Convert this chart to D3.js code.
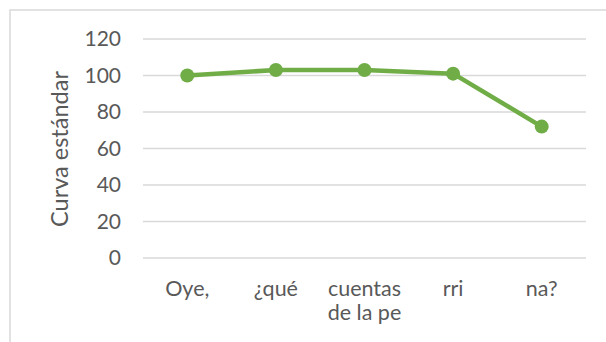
<!DOCTYPE html>
<html>
<head>
<meta charset="utf-8">
<script src="https://cdn.jsdelivr.net/npm/d3@7"></script>
<style>
  html, body { margin: 0; padding: 0; background: #fff; }
  svg { display: block; }
  text { font-family: Lato, "Open Sans", sans-serif; fill: #595959; }
</style>
</head>
<body>
<svg id="chart" width="606" height="342"></svg>
<script>
// Word fragments along the x axis (multi-line labels split on "\n")
const categories = ["Oye,", "¿qué", "cuentas\nde la pe", "rri", "na?"];
// Standard-curve values per category
const curvaValues = [100, 103, 103, 101, 72];
// Y axis ticks
const yTicks = [0, 20, 40, 60, 80, 100, 120];
const yTitle = "Curva estándar";

const svg = d3.select("#chart");
const W = 606, H = 342;
const plot = { left: 143, right: 586, top: 39, bottom: 258 };

// Outer chart frame
svg.append("rect")
  .attr("x", 10).attr("y", 10)
  .attr("width", W + 10).attr("height", H + 10)
  .attr("fill", "none").attr("stroke", "#d9d9d9").attr("stroke-width", 1.5);

const x = d3.scaleBand().domain(categories).range([plot.left, plot.right]);
const y = d3.scaleLinear().domain([0, 120]).range([plot.bottom, plot.top]);

// Horizontal gridlines
svg.append("g").selectAll("line").data(yTicks).join("line")
  .attr("x1", plot.left).attr("x2", plot.right)
  .attr("y1", d => y(d)).attr("y2", d => y(d))
  .attr("stroke", "#d9d9d9").attr("stroke-width", 1.5);

// Y axis tick labels
const yAxis = d3.axisLeft(y).tickValues(yTicks).tickSize(0).tickPadding(0);
const gy = svg.append("g").attr("transform", `translate(${plot.left - 22},0)`).call(yAxis);
gy.select(".domain").remove();
gy.selectAll("text").style("font-size", "21px").attr("fill", "#595959")
  .style("font-family", "Lato, sans-serif");

// X axis labels (wrapped)
const gx = svg.append("g");
categories.forEach(c => {
  const lines = c.split("\n");
  const cx = x(c) + x.bandwidth() / 2;
  const t = gx.append("text")
    .attr("x", cx)
    .attr("y", 296)
    .attr("text-anchor", "middle")
    .style("font-size", "21.5px");
  lines.forEach((ln, i) => {
    t.append("tspan").attr("x", cx).attr("dy", i === 0 ? 0 : 24).text(ln);
  });
});

// Y axis title
svg.append("text")
  .attr("transform", `translate(68,149) rotate(-90)`)
  .attr("text-anchor", "middle")
  .style("font-size", "23.5px")
  .text(yTitle);

// Series line and markers
const pts = categories.map((c, i) => [x(c) + x.bandwidth() / 2, y(curvaValues[i])]);
svg.append("path")
  .attr("d", d3.line()(pts))
  .attr("fill", "none").attr("stroke", "#70AD47")
  .attr("stroke-width", 4.5).attr("stroke-linejoin", "round");
svg.append("g").selectAll("circle").data(pts).join("circle")
  .attr("cx", d => d[0]).attr("cy", d => d[1]).attr("r", 7)
  .attr("fill", "#70AD47");
</script>
</body>
</html>
